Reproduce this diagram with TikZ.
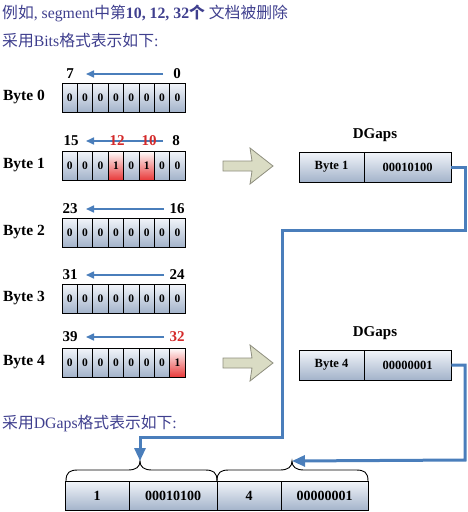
\documentclass[tikz,border=0pt]{standalone}
\usepackage{fontspec}
\setmainfont{Liberation Serif}
\newfontfamily\cjk{Noto Sans CJK SC}
\usetikzlibrary{arrows.meta}
\definecolor{txtblue}{HTML}{3F3F8E}
\definecolor{lineblue}{HTML}{4A7EBB}
\definecolor{celltop}{HTML}{F2F5FA}
\definecolor{cellbot}{HTML}{A3B3CA}
\definecolor{redbot}{HTML}{E83A3A}
\definecolor{khaki}{HTML}{DADCC4}
\definecolor{khakiedge}{HTML}{8E8E7E}
\definecolor{numred}{HTML}{D42A2A}
\newcommand\byterow[3]{%
  \foreach \v [count=\i from 0] in {#3} {%
    \ifnum\v=1
      \node[redcell] (c#1-\i) at ({62+15.4*(\i+0.5)},{#2+14.5}) {\v};
    \else
      \node[cell] (c#1-\i) at ({62+15.4*(\i+0.5)},{#2+14.5}) {\v};
    \fi}}
\begin{document}
\begin{tikzpicture}[x=1pt,y=-1pt,
  cell/.style={draw=black, line width=0.9pt, top color=celltop, bottom color=cellbot,
    minimum width=15.4pt, minimum height=29pt, inner sep=0pt,
    font=\fontsize{11.5}{11.5}\selectfont\bfseries},
  redcell/.style={cell, top color=white, bottom color=redbot},
  gcell/.style={cell, minimum height=30pt, font=\fontsize{12.5}{12.5}\selectfont\bfseries},
  bcell/.style={cell, minimum height=29.5pt, font=\fontsize{14}{14}\selectfont\bfseries},
  num/.style={inner sep=0pt, font=\fontsize{15}{15}\selectfont\bfseries},
  rnum/.style={num, text=numred},
  bytelabel/.style={inner sep=0pt, font=\fontsize{15.5}{15.5}\selectfont\bfseries},
  title/.style={inner sep=0pt, font=\fontsize{15}{15}\selectfont\bfseries},
  caption/.style={inner sep=0pt, anchor=base west, text=txtblue, font=\fontsize{15.8}{17}\selectfont},
  bitarrow/.style={draw=lineblue, line width=1.6pt, -{Triangle[length=8pt,width=7pt]}},
  conn/.style={draw=lineblue, line width=3pt, -{Triangle[length=13pt,width=11pt]}},
  bigarrow/.style={fill=khaki, draw=khakiedge, line width=0.8pt},
  brace/.style={draw=black, line width=0.9pt}
]
\useasboundingbox (0,0) rectangle (468,512);

% captions
\node[caption] (t1) at (2,18) {{\cjk 例如}, segment{\cjk 中第}\textbf{10, 12, 32}{\cjk\bfseries 个} {\cjk 文档被删除}};
\node[caption] (t2) at (2,46) {{\cjk 采用}Bits{\cjk 格式表示如下}:};
\node[caption] (t3) at (2,428) {{\cjk 采用}DGaps{\cjk 格式表示如下}:};

% byte rows
\byterow{0}{83}{0,0,0,0,0,0,0,0}
\byterow{1}{151}{0,0,0,1,0,1,0,0}
\byterow{2}{218}{0,0,0,0,0,0,0,0}
\byterow{3}{284}{0,0,0,0,0,0,0,0}
\byterow{4}{348}{0,0,0,0,0,0,0,1}

\node[bytelabel] (l0) at (24,97.5) {Byte 0};
\node[bytelabel] (l1) at (24,165.5) {Byte 1};
\node[bytelabel] (l2) at (24,232.5) {Byte 2};
\node[bytelabel] (l3) at (24,298.5) {Byte 3};
\node[bytelabel] (l4) at (24,362.5) {Byte 4};

% bit index arrows
\coordinate (a0s) at (163,74);  \coordinate (a0e) at (86,74);
\coordinate (a1s) at (163,141); \coordinate (a1e) at (86,141);
\coordinate (a2s) at (164,209); \coordinate (a2e) at (86,209);
\coordinate (a3s) at (164,275); \coordinate (a3e) at (86,275);
\coordinate (a4s) at (164,337); \coordinate (a4e) at (86,337);
\draw[bitarrow] (a0s) -- (a0e);
\draw[bitarrow] (a1s) -- (a1e);
\draw[bitarrow] (a2s) -- (a2e);
\draw[bitarrow] (a3s) -- (a3e);
\draw[bitarrow] (a4s) -- (a4e);

\node[num] (n0h) at (70,74) {7};
\node[num] (n0l) at (177,74) {0};
\node[num] (n1h) at (71,141) {15};
\node[rnum] (n1a) at (117,141) {12};
\node[rnum] (n1b) at (149,141) {10};
\node[num] (n1l) at (176,141) {8};
\node[num] (n2h) at (70,209) {23};
\node[num] (n2l) at (177,209) {16};
\node[num] (n3h) at (70,275) {31};
\node[num] (n3l) at (177,275) {24};
\node[num] (n4h) at (70,337) {39};
\node[rnum] (n4l) at (177,337) {32};

% big hollow arrows
\draw[bigarrow] (223,161) -- (252,161) -- (250,148) -- (273,166) -- (250,184) -- (252,171) -- (223,171) -- cycle;
\draw[bigarrow] (223,358) -- (252,358) -- (250,345) -- (273,363) -- (250,381) -- (252,368) -- (223,368) -- cycle;

% DGaps boxes
\node[title] (d1) at (375,135) {DGaps};
\node[gcell, minimum width=65pt] (g1a) at (331.5,167) {Byte 1};
\node[gcell, minimum width=87pt] (g1b) at (407.5,167) {00010100};
\node[title] (d4) at (375,333) {DGaps};
\node[gcell, minimum width=65pt] (g4a) at (331.5,365) {Byte 4};
\node[gcell, minimum width=87pt] (g4b) at (407.5,365) {00000001};

% bottom box
\node[bcell, minimum width=64pt] (b1) at (97,495.75) {1};
\node[bcell, minimum width=88pt] (b2) at (173,495.75) {00010100};
\node[bcell, minimum width=64pt] (b3) at (249,495.75) {4};
\node[bcell, minimum width=87pt] (b4) at (324.5,495.75) {00000001};

% braces
\coordinate (tip1) at (140,461);
\coordinate (tip2) at (292,461);
\draw[brace] (66,481) .. controls (66,472) and (70,470) .. (78,470) -- (128,470)
  .. controls (136,470) and (140,467) .. (tip1)
  .. controls (140,467) and (144,470) .. (152,470) -- (205,470)
  .. controls (213,470) and (217,472) .. (217,481);
\draw[brace] (217,481) .. controls (217,472) and (221,470) .. (229,470) -- (280,470)
  .. controls (288,470) and (292,467) .. (tip2)
  .. controls (292,467) and (296,470) .. (304,470) -- (356,470)
  .. controls (364,470) and (368,472) .. (368,481);

% connectors
\draw[conn] (g1b.east) -- (465,167) -- (465,230) -- (282,230) -- (282,437) -- (140,437) -- (tip1);
\draw[conn] (g4b.east) -- (465,365) -- (465,460) -- (tip2);
\end{tikzpicture}
\end{document}
